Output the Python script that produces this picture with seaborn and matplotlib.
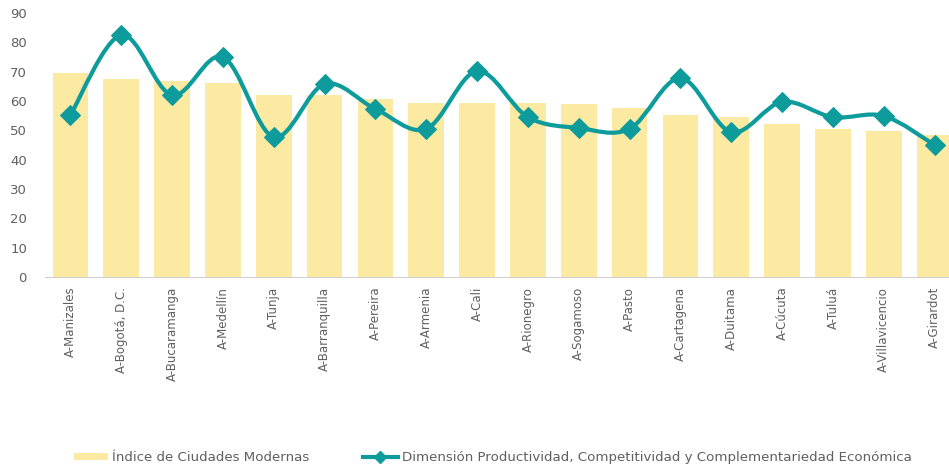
import numpy as np
import pandas as pd
import matplotlib
matplotlib.use('Agg')
import matplotlib.pyplot as plt
import seaborn as sns
from matplotlib.path import Path
from matplotlib.patches import PathPatch, Patch
from matplotlib.lines import Line2D

ciudades = ['A-Manizales', 'A-Bogotá, D.C.', 'A-Bucaramanga', 'A-Medellín', 'A-Tunja',
            'A-Barranquilla', 'A-Pereira', 'A-Armenia', 'A-Cali', 'A-Rionegro',
            'A-Sogamoso', 'A-Pasto', 'A-Cartagena', 'A-Duitama', 'A-Cúcuta',
            'A-Tuluá', 'A-Villavicencio', 'A-Girardot']
indice = [69.5, 67.5, 66.8, 66.1, 62.0, 62.0, 60.7, 59.3, 59.3, 59.3,
          59.0, 57.6, 55.2, 54.5, 52.2, 50.5, 49.8, 48.4]
productividad = [55.2, 82.5, 62.0, 75.0, 47.7, 65.8, 57.3, 50.5, 70.2, 54.5,
                 50.8, 50.5, 67.8, 49.4, 59.7, 54.5, 54.9, 45.0]

lbl_bar = 'Índice de Ciudades Modernas'
lbl_line = 'Dimensión Productividad, Competitividad y Complementariedad Económica'

bar_color = '#FCE9A2'
line_color = '#0D9B9B'
gray = '#5F5F5F'

df = pd.DataFrame({'ciudad': ciudades, 'indice': indice, 'prod': productividad})
df['pos'] = np.arange(len(df))

fig = plt.figure(figsize=(9.49, 4.68), dpi=100)
ax = fig.add_axes([45 / 949, 1 - 277 / 468, (960 - 45) / 949, (277 - 13) / 468])

sns.barplot(x='ciudad', y='indice', data=df, color=bar_color, width=0.7,
            saturation=1, ax=ax)

# smoothed line (Excel-like), bezier control points from neighbouring points
x = df['pos'].to_numpy(float)
y = df['prod'].to_numpy(float)
pts = np.column_stack([x, y])
verts = [pts[0]]
codes = [Path.MOVETO]
n = len(pts)
for i in range(n - 1):
    p0 = pts[i - 1] if i > 0 else pts[i]
    p1, p2 = pts[i], pts[i + 1]
    p3 = pts[i + 2] if i + 2 < n else pts[i + 1]
    verts += [p1 + (p2 - p0) / 6, p2 - (p3 - p1) / 6, p2]
    codes += [Path.CURVE4] * 3
ax.add_patch(PathPatch(Path(verts, codes), facecolor='none', edgecolor=line_color,
                       lw=3, capstyle='round', joinstyle='round', zorder=3))
sns.lineplot(x='pos', y='prod', data=df, marker='D', linestyle='', markersize=10,
             color=line_color, markeredgecolor=line_color, ax=ax, zorder=4)

ax.set_ylim(0, 90)
ax.set_xlim(-0.5, len(ciudades) - 0.5)
ax.set_yticks(range(0, 91, 10))
ax.set_xlabel('')
ax.set_ylabel('')
for s in ['top', 'right', 'left']:
    ax.spines[s].set_visible(False)
ax.spines['bottom'].set_color('#D0D0D0')
ax.tick_params(axis='y', length=0, labelsize=9.5, labelcolor=gray, pad=13)
ax.tick_params(axis='x', length=0, labelsize=8.5, labelcolor=gray, pad=7)
ax.set_xticks(range(len(ciudades)))
ax.set_xticklabels(ciudades, rotation=90)

handles = [Patch(facecolor=bar_color, edgecolor='none'),
           Line2D([0], [0], color=line_color, lw=3, marker='D', markersize=6)]
leg = fig.legend(handles, [lbl_bar, lbl_line], loc='lower center', ncol=2,
                 bbox_to_anchor=(0.519, -0.018), frameon=False, fontsize=9.6,
                 handlelength=2.6, handleheight=0.5, columnspacing=4.0,
                 labelcolor=gray, handletextpad=0.3)

fig.savefig('out.png', dpi=100)
